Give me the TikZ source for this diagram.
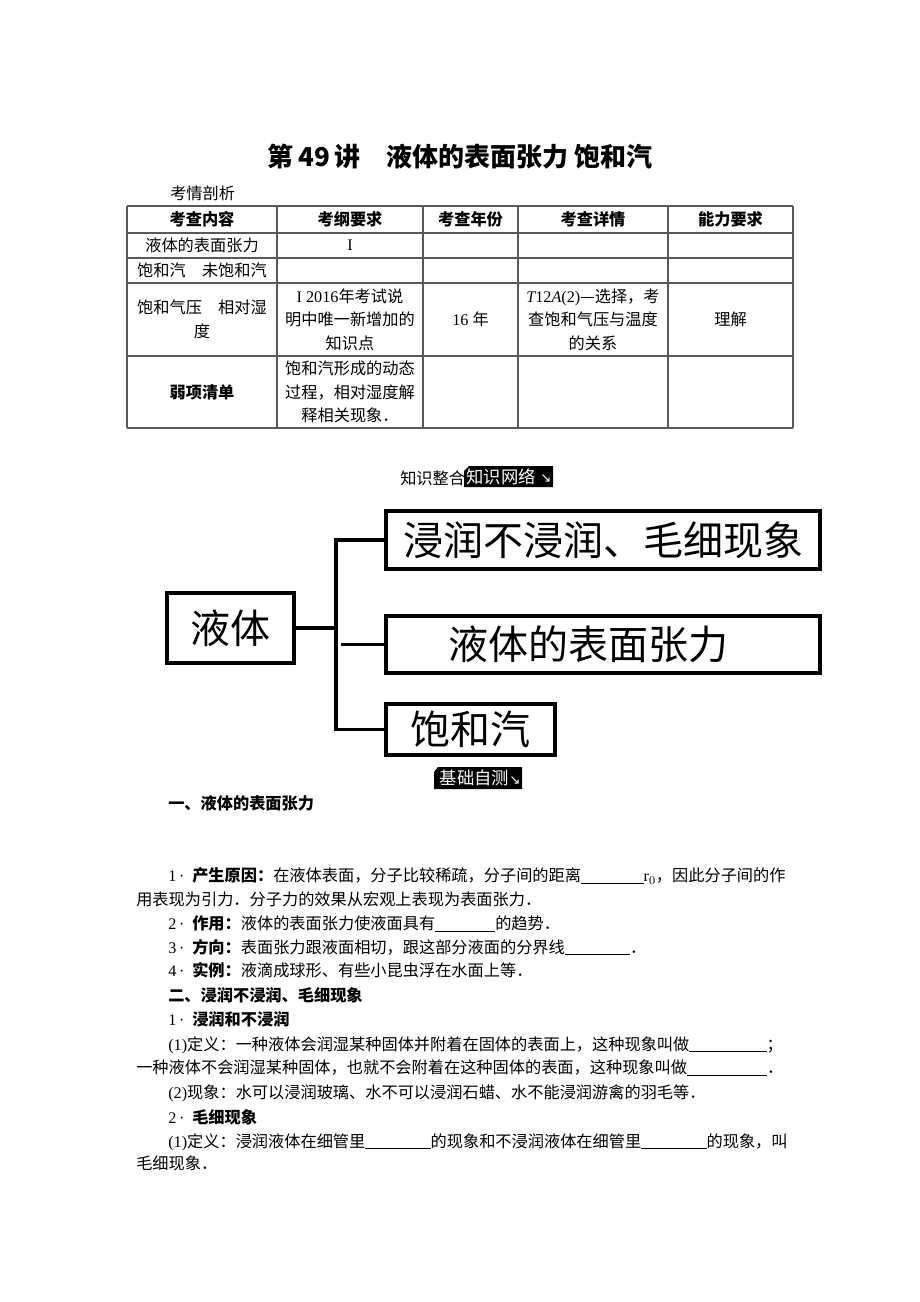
\documentclass[tikz,border=0pt]{standalone}
\usepackage{fontspec}
\setmainfont{Noto Sans CJK SC}
\newfontfamily\lat{Liberation Serif}
\newfontfamily\arr{DejaVu Sans}
\usetikzlibrary{positioning}

\tikzset{
  txt/.style={anchor=west, inner sep=0pt, font=\fontsize{12.15}{14}\selectfont},
  cell/.style={inner sep=0pt, align=center, font=\fontsize{12.15}{17.6}\selectfont},
  head/.style={cell, font=\fontsize{12.15}{17.6}\selectfont\bfseries},
  bigbox/.style={draw, line width=2.6pt, inner sep=0pt, font=\fontsize{30}{32}\selectfont},
  conn/.style={line width=2.4pt},
  tabline/.style={black!65, line width=1.3pt},
  tagtext/.style={inner sep=0pt, text=white, font=\fontsize{13}{15}\selectfont}
}
\newcommand\blank[1]{\rule[-1.5pt]{#1}{0.6pt}}
\newcommand\num[1]{\makebox[18pt][l]{\lat #1\,·}}

\begin{document}
\begin{tikzpicture}[x=0.75pt, y=-0.75pt]
      \useasboundingbox (0,0) rectangle (920,1302);

      \node[inner sep=0pt, font=\fontsize{19.5}{22}\selectfont\bfseries] (title) at (460,157) {第\,49\,讲　液体的表面张力 饱和汽};
      \node[txt] (kaoqing) at (170,193) {考情剖析};

      \foreach \y in {206,233,258,283,356,428}
        \draw[tabline] (127,\y) -- (793,\y);
      \foreach \x in {127,277,423,518,668,793}
        \draw[tabline] (\x,206) -- (\x,428);

      \node[head] (h1) at (202,219.5) {考查内容};
      \node[head] (h2) at (350,219.5) {考纲要求};
      \node[head] (h3) at (470.5,219.5) {考查年份};
      \node[head] (h4) at (593,219.5) {考查详情};
      \node[head] (h5) at (730.5,219.5) {能力要求};

      \node[cell] (r1a) at (202,245.5) {液体的表面张力};
      \node[cell] (r1b) at (350,245.5) {\lat I};
      \node[cell] (r2a) at (202,270.5) {饱和汽　未饱和汽};
      \node[cell] (r3a) at (202,319.5) {饱和气压　相对湿\\度};
      \node[cell] (r3b) at (350,319.5) {{\lat I 2016}年考试说\\明中唯一新增加的\\知识点};
      \node[cell] (r3c) at (470.5,319.5) {{\lat 16 }年};
      \node[cell] (r3d) at (593,319.5) {{\lat\itshape T}{\lat 12}{\lat\itshape A}{\lat (2)}—选择，考\\查饱和气压与温度\\的关系};
      \node[cell] (r3e) at (730.5,319.5) {理解};
      \node[head] (r4a) at (202,392) {弱项清单};
      \node[cell] (r4b) at (350,392) {饱和汽形成的动态\\过程，相对湿度解\\释相关现象．};

      \node[txt] (zhenghe) at (400,478) {知识整合};
      \fill (464,471) -- (469,466) -- (553,466) -- (553,487) -- (464,487) -- cycle;
      \node[tagtext] (wangluo) at (501,476.5) {知识网络};
      \node[tagtext, font=\fontsize{10}{11}\arr] (wlarrow) at (546,479) {↘};

      \node[bigbox, minimum width=95.25pt, minimum height=52.5pt] (yeti) at (230.5,628) {液体};
      \node[bigbox, minimum width=325.5pt, minimum height=43.5pt] (jinrun) at (603,540) {浸润不浸润、毛细现象};
      \node[bigbox, minimum width=325.5pt, minimum height=42.75pt] (zhangli) at (603,644.5) {\kern-22pt 液体的表面张力};
      \node[bigbox, minimum width=126.75pt, minimum height=38.25pt] (baohe) at (470.5,729.5) {饱和汽};

      \coordinate (spine) at (336,0);
      \draw[conn] (jinrun.west) -- (jinrun.west -| spine) -- (baohe.west -| spine) -- (baohe.west);
      \draw[conn] (yeti.east) -- (yeti.east -| spine);
      \draw[conn] ([xshift=4]zhangli.west -| spine) -- (zhangli.west);

      \fill (434,772) -- (438,767) -- (522,767) -- (522,789) -- (434,789) -- cycle;
      \node[tagtext] (zice) at (474.5,778) {基础自测};
      \node[tagtext, font=\fontsize{10}{11}\arr] (zcarrow) at (515,781) {↘};

      \node[txt, font=\fontsize{12.15}{14}\selectfont\bfseries] (sec1) at (168,803) {一、液体的表面张力};
      \node[txt] (l1) at (168,876) {\num{1}\textbf{产生原因：}在液体表面，分子比较稀疏，分子间的距离\blank{47pt}{\lat r}$_0$，因此分子间的作};
      \node[txt] (l2) at (136,899) {用表现为引力．分子力的效果从宏观上表现为表面张力．};
      \node[txt] (l3) at (168,924) {\num{2}\textbf{作用：}液体的表面张力使液面具有\blank{45pt}的趋势．};
      \node[txt] (l4) at (168,947) {\num{3}\textbf{方向：}表面张力跟液面相切，跟这部分液面的分界线\blank{49pt}．};
      \node[txt] (l5) at (168,970) {\num{4}\textbf{实例：}液滴成球形、有些小昆虫浮在水面上等．};
      \node[txt, font=\fontsize{12.15}{14}\selectfont\bfseries] (sec2) at (168,995) {二、浸润不浸润、毛细现象};
      \node[txt] (l6) at (168,1019) {\num{1}\textbf{浸润和不浸润}};
      \node[txt] (l7) at (168,1045) {{\lat (1)}定义：一种液体会润湿某种固体并附着在固体的表面上，这种现象叫做\blank{58pt}；};
      \node[txt] (l8) at (136,1068) {一种液体不会润湿某种固体，也就不会附着在这种固体的表面，这种现象叫做\blank{60pt}．};
      \node[txt] (l9) at (168,1093) {{\lat (2)}现象：水可以浸润玻璃、水不可以浸润石蜡、水不能浸润游禽的羽毛等．};
      \node[txt] (l10) at (168,1117) {\num{2}\textbf{毛细现象}};
      \node[txt] (l11) at (168,1142) {{\lat (1)}定义：浸润液体在细管里\blank{49pt}的现象和不浸润液体在细管里\blank{49pt}的现象，叫};
      \node[txt] (l12) at (136,1163) {毛细现象．};

\end{tikzpicture}
\end{document}
